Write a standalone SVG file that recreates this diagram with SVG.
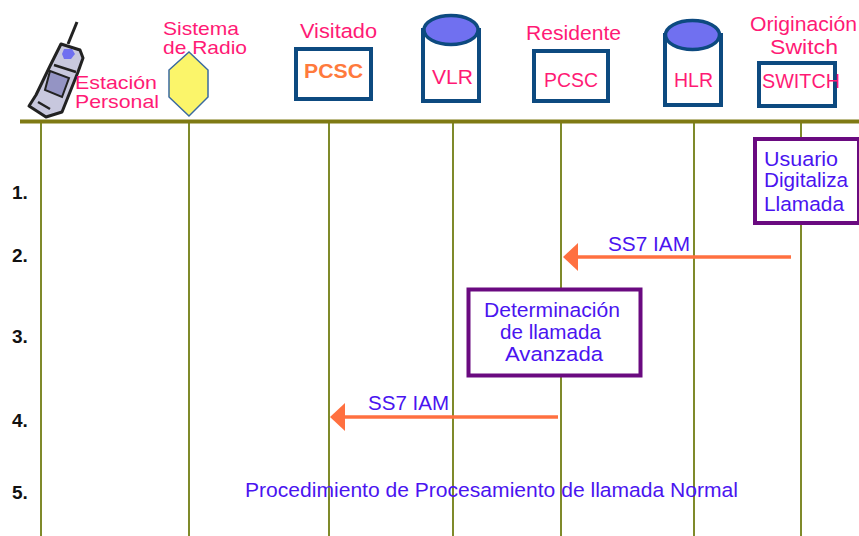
<svg xmlns="http://www.w3.org/2000/svg" width="859" height="536" viewBox="0 0 859 536">
<style>
text{font-family:"Liberation Sans",Arial,sans-serif}
.p{fill:#ff1a75;font-size:20.500px}
.b{fill:#4a14f0;font-size:20.500px}
.s{font-size:18.500px}
.n{fill:#111;font-size:19px;font-weight:bold}
.life{stroke:#7f8a2a;stroke-width:2;fill:none}
.box{fill:#fff;stroke:#0d4a80;stroke-width:4}
.note{fill:#fff;stroke:#6a0a80;stroke-width:4}
.cyl{fill:#7070f0;stroke:#0d4a80;stroke-width:3.500}
.arrow{stroke:#ff7040;stroke-width:3.500;fill:none}
</style>
<rect width="859" height="536" fill="#fff"/>
<g id="connectors">
<path class="life" d="M41 122V536M189 122V536M329 122V536M453 122V536M561 122V536M694 122V536M801 122V536"/>
<path d="M20 121.500H859" stroke="#7f7a14" stroke-width="4" fill="none"/>
<path class="arrow" d="M791 257H578"/><path d="M578 243V271L563 257Z" fill="#ff7040"/>
<path class="arrow" d="M558 417H345"/><path d="M345 403V431L330 417Z" fill="#ff7040"/>
</g>
<g id="phone">
<path d="M77 22L68 44" stroke="#222" stroke-width="3" fill="none"/>
<path d="M61 44L80 50L83 58L78 72L62 112L46 117L29 106L36 95L50 66Z" fill="#c8c8de" stroke="#222" stroke-width="3" stroke-linejoin="round"/>
<path d="M64 49H72L75 54L71 59H64L62 54Z" fill="#7070f0"/>
<path d="M50 71L69 78L62 97L45 90Z" fill="#9494c4" stroke="#222" stroke-width="2"/>
<path d="M54 65L76 72M38 102L50 109" stroke="#222" stroke-width="2.500" fill="none"/>
</g>
<text class="p s" x="75" y="89" textLength="82" lengthAdjust="spacingAndGlyphs">Estación</text>
<text class="p s" x="75" y="108" textLength="84" lengthAdjust="spacingAndGlyphs">Personal</text>
<g id="radio"><path d="M189 52L208 70V97L189 116L169 97V70Z" fill="#fbf56a" stroke="#3a6aa0" stroke-width="1.500"/>
<text class="p s" x="163" y="35" textLength="76" lengthAdjust="spacingAndGlyphs">Sistema</text>
<text class="p s" x="163" y="54" textLength="84" lengthAdjust="spacingAndGlyphs">de Radio</text></g>
<g id="pcsc-v"><rect class="box" x="296" y="49" width="75" height="50"/>
<text x="304" y="78" fill="#ff7a3c" font-size="20" font-weight="bold" textLength="59" lengthAdjust="spacingAndGlyphs">PCSC</text>
<text class="p" x="300" y="38" textLength="77" lengthAdjust="spacingAndGlyphs">Visitado</text></g>
<g id="vlr"><path class="box" d="M423 28V101H479V28"/><ellipse class="cyl" cx="451" cy="30" rx="27" ry="14.500"/>
<text class="p" x="432" y="84" textLength="41" lengthAdjust="spacingAndGlyphs">VLR</text></g>
<g id="pcsc-r"><rect class="box" x="534" y="51" width="74" height="50"/>
<text class="p" x="544" y="87" textLength="54" lengthAdjust="spacingAndGlyphs">PCSC</text>
<text class="p" x="526" y="40" textLength="95" lengthAdjust="spacingAndGlyphs">Residente</text></g>
<g id="hlr"><path class="box" d="M665 33V105H721V33"/><ellipse class="cyl" cx="692.500" cy="35" rx="27" ry="14.500"/>
<text class="p" x="674" y="87" textLength="39" lengthAdjust="spacingAndGlyphs">HLR</text></g>
<g id="switch"><rect class="box" x="759" y="63" width="76" height="43"/>
<text class="p" x="762" y="88" textLength="78" lengthAdjust="spacingAndGlyphs">SWITCH</text>
<text class="p" x="750" y="31" textLength="107" lengthAdjust="spacingAndGlyphs">Originación</text>
<text class="p" x="770" y="54" textLength="68" lengthAdjust="spacingAndGlyphs">Switch</text></g>
<g id="user"><rect class="note" x="755" y="139" width="104" height="84"/>
<text class="b" x="764" y="166" textLength="74" lengthAdjust="spacingAndGlyphs">Usuario</text>
<text class="b" x="764" y="187" textLength="84" lengthAdjust="spacingAndGlyphs">Digitaliza</text>
<text class="b" x="764" y="211" textLength="80" lengthAdjust="spacingAndGlyphs">Llamada</text></g>
<g id="det"><rect class="note" x="468.500" y="289.500" width="172" height="86"/>
<text class="b" x="484" y="317" textLength="136" lengthAdjust="spacingAndGlyphs">Determinación</text>
<text class="b" x="500" y="339" textLength="101" lengthAdjust="spacingAndGlyphs">de llamada</text>
<text class="b" x="505" y="361" textLength="98" lengthAdjust="spacingAndGlyphs">Avanzada</text></g>
<text class="b" x="608" y="251" textLength="82" lengthAdjust="spacingAndGlyphs">SS7 IAM</text>
<text class="b" x="368" y="410" textLength="81" lengthAdjust="spacingAndGlyphs">SS7 IAM</text>
<text class="b" x="245" y="497" textLength="493" lengthAdjust="spacingAndGlyphs">Procedimiento de Procesamiento de llamada Normal</text>
<text class="n" x="12" y="199">1.</text><text class="n" x="12" y="262">2.</text><text class="n" x="12" y="343">3.</text><text class="n" x="12" y="427">4.</text><text class="n" x="12" y="499">5.</text>
</svg>
